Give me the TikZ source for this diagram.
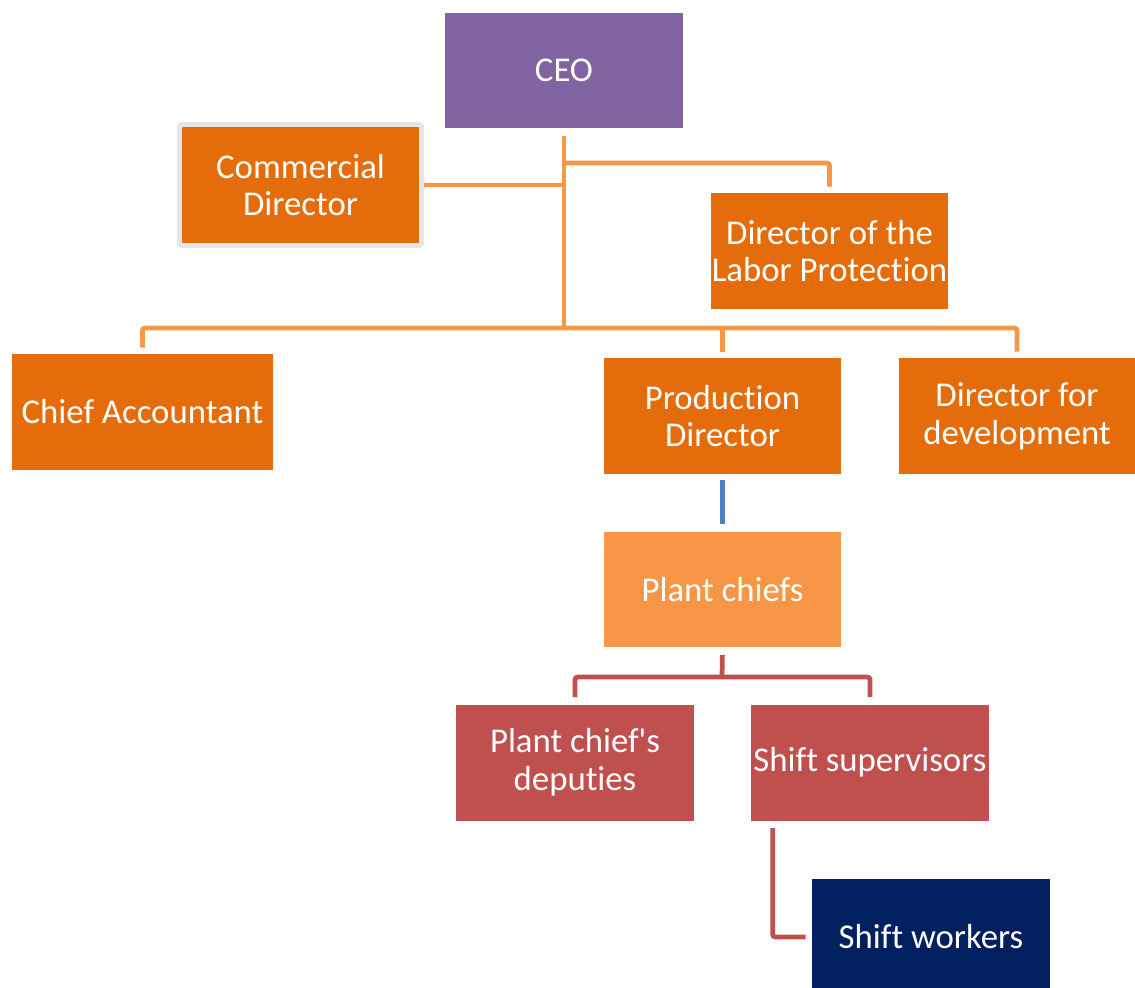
\documentclass[tikz,border=0pt]{standalone}
\usepackage{fontspec}
\setmainfont{Carlito}[Ligatures={TeXOff,NoCommon}]
\usepackage{xcolor}
\usepackage{tikz}
\usetikzlibrary{positioning}
\definecolor{ceoBox}{HTML}{8064A2}
\definecolor{dirBox}{HTML}{E46C0A}
\definecolor{plantBox}{HTML}{F79646}
\definecolor{depBox}{HTML}{C0504D}
\definecolor{workBox}{HTML}{002060}
\definecolor{frameGray}{HTML}{E6E6E6}
\definecolor{lnOrange}{HTML}{F79646}
\definecolor{lnBlue}{HTML}{4F81BD}
\definecolor{lnRed}{HTML}{C0504D}

\begin{document}
\begin{tikzpicture}[x=0.02cm, y=-0.02cm, box/.style={minimum width=4.76cm, minimum height=2.32cm, inner sep=0pt, align=center, text=white, font=\fontsize{19.8}{21.5}\selectfont},conn/.style={line width=2.7pt, rounded corners=1.5pt}]
\useasboundingbox (0,0) rectangle (1135,987);
% top level and directors
\node[box, fill=ceoBox] (ceo) at (564,70.5) {CEO};
\node[box, fill=dirBox, draw=frameGray, line width=2.8pt, rounded corners=1pt, minimum width=4.84cm, minimum height=2.42cm] (comm) at (300.5,185) {Commercial\\Director};
\node[box, fill=dirBox] (labor) at (829.5,251) {Director of the\\Labor Protection};
\node[box, fill=dirBox, minimum width=5.22cm] (chief) at (142.5,412) {Chief Accountant};
\node[box, fill=dirBox] (prod) at (722.5,416) {Production\\Director};
\node[box, fill=dirBox, minimum width=4.72cm] (dev) at (1017,416) {Director for\\development};
% production branch
\node[box, fill=plantBox] (plant) at (722.5,589.5) {Plant chiefs};
\node[box, fill=depBox] (deputy) at (575,762.5) {Plant chief's\\deputies};
\node[box, fill=depBox] (super) at (870,762.5) {Shift supervisors};
\node[box, fill=workBox] (workers) at (931,937) {Shift workers};
\coordinate (busA) at (563,163);
\coordinate (busB) at (563,328);
\coordinate (redbus) at (722,677);
% orange connectors
\draw[conn, lnOrange, shorten <=0.14cm] (ceo.south) -- (ceo.south |- busB);
\draw[conn, lnOrange] (comm.east) -- (comm.east -| ceo.south);
\draw[conn, lnOrange, shorten >=0.12cm] (busA) -| (labor.north);
\draw[conn, lnOrange, shorten <=0.12cm, shorten >=0.12cm] (chief.north) |- (busB) -| (dev.north);
\draw[conn, lnOrange, shorten >=0.12cm] (prod.north |- busB) -- (prod.north);
% production to plants
\draw[conn, lnBlue, shorten <=0.12cm, shorten >=0.14cm] (prod.south) -- (plant.north);
\draw[conn, lnRed, shorten <=0.14cm] (plant.south) -- (redbus);
\draw[conn, lnRed, shorten <=0.14cm, shorten >=0.14cm] (deputy.north) |- (redbus) -| (super.north);
\draw[conn, lnRed, shorten <=0.14cm, shorten >=0.12cm] ([xshift=0.44cm]super.south west) |- (workers.west);
\end{tikzpicture}
\end{document}
